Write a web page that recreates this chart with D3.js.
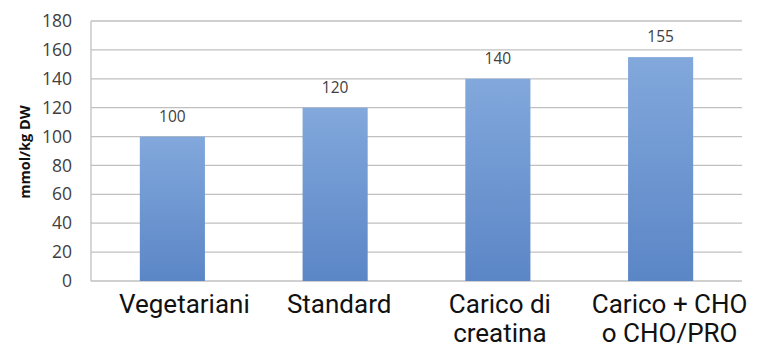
<!DOCTYPE html>
<html><head><meta charset="utf-8">
<script src="https://cdn.jsdelivr.net/npm/d3@7"></script>
<style>body{margin:0;background:#fff}svg{display:block}</style>
</head><body><svg id="c" width="757" height="347"></svg>
<script>
const categories = [["Vegetariani"], ["Standard"], ["Carico di", "creatina"], ["Carico + CHO", "o CHO/PRO"]];
const values = [100, 120, 140, 155];
const yTicks = [0, 20, 40, 60, 80, 100, 120, 140, 160, 180];
const yTitle = "mmol/kg DW";

const svg = d3.select("#c");
const m = {l: 91, r: 742, t: 21, b: 281};
const x = d3.scaleBand().domain(d3.range(values.length)).range([m.l, m.r]).paddingInner(0.6).paddingOuter(0.3);
const y = d3.scaleLinear().domain([0, 180]).range([m.b, m.t]);

const defs = svg.append("defs");
const g = defs.append("linearGradient").attr("id", "bg").attr("x1", 0).attr("y1", 0).attr("x2", 0).attr("y2", 1);
g.append("stop").attr("offset", "0%").attr("stop-color", "#82a8dc");
g.append("stop").attr("offset", "100%").attr("stop-color", "#5b86c6");

// grid
svg.append("g").selectAll("line").data(yTicks).join("line")
  .attr("x1", m.l).attr("x2", m.r).attr("y1", d => y(d)).attr("y2", d => y(d))
  .attr("stroke", "#c0c0c0").attr("stroke-width", 1.3);
svg.append("line").attr("x1", m.l).attr("x2", m.l).attr("y1", m.t).attr("y2", m.b)
  .attr("stroke", "#c0c0c0").attr("stroke-width", 1.3);

// y tick labels
const ya = svg.append("g").attr("transform", `translate(${m.l},0)`)
  .call(d3.axisLeft(y).tickValues(yTicks).tickSize(0).tickPadding(19));
ya.select(".domain").remove();
ya.selectAll("text").attr("font-family", "'Open Sans', sans-serif").attr("font-size", 17.5).attr("fill", "#404040");

// bars
svg.append("g").selectAll("rect").data(values).join("rect")
  .attr("x", (d, i) => x(i)).attr("width", x.bandwidth())
  .attr("y", d => y(d)).attr("height", d => y(0) - y(d))
  .attr("fill", "url(#bg)");

// value labels
svg.append("g").selectAll("text").data(values).join("text")
  .attr("x", (d, i) => x(i) + x.bandwidth() / 2).attr("y", d => y(d) - 15)
  .attr("text-anchor", "middle").attr("font-family", "'Open Sans', sans-serif")
  .attr("font-size", 15.5).attr("fill", "#404040").text(d => d);

// category labels (slight horizontal nudge as in the original)
const labelNudge = [12, 4, 2, 9];
const cl = svg.append("g").selectAll("text").data(categories).join("text")
  .attr("x", (d, i) => x(i) + x.bandwidth() / 2 + labelNudge[i]).attr("y", 313)
  .attr("text-anchor", "middle").attr("font-family", "Roboto, sans-serif")
  .attr("font-size", 26).attr("fill", "#111");
cl.selectAll("tspan").data(d => d).join("tspan")
  .attr("x", function () { return d3.select(this.parentNode).attr("x"); })
  .attr("dy", (d, i) => i === 0 ? 0 : 29).text(d => d);

// y title
svg.append("text").attr("transform", "translate(30,152) rotate(-90)")
  .attr("text-anchor", "middle").attr("font-family", "'Open Sans', sans-serif")
  .attr("font-weight", "bold").attr("font-size", 14.5).attr("fill", "#111").text(yTitle);
</script></body></html>
